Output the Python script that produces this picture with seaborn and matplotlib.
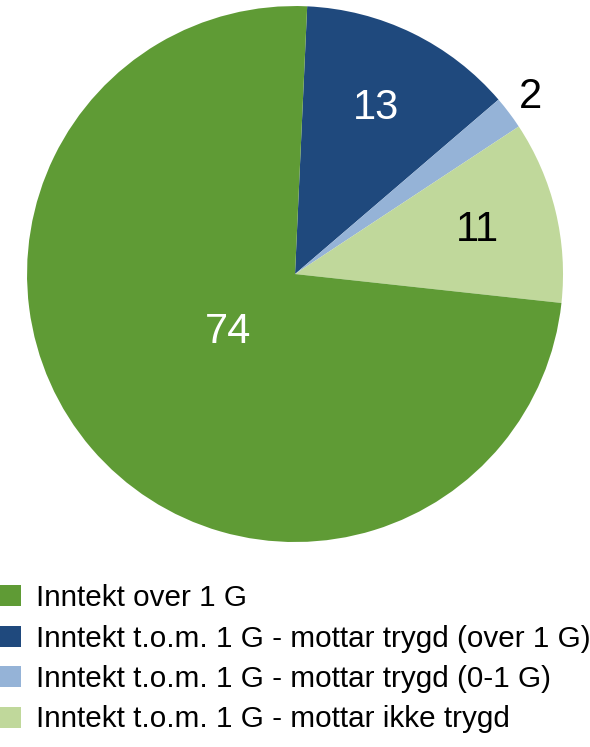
import matplotlib
matplotlib.use("Agg")
import matplotlib.pyplot as plt
import seaborn as sns
import numpy as np

sns.set_theme(style="white")
plt.rcParams['font.family'] = ['Liberation Sans', 'DejaVu Sans']
plt.rcParams['text.color'] = 'black'

categories = [
    "Inntekt t.o.m. 1 G - mottar trygd (over 1 G)",
    "Inntekt t.o.m. 1 G - mottar trygd (0-1 G)",
    "Inntekt t.o.m. 1 G - mottar ikke trygd",
    "Inntekt over 1 G",
]
values = [13, 2, 11, 74]
colors = ["#1F497D", "#95B3D7", "#C0D89B", "#5F9B35"]
label_colors = ["white", "black", "black", "white"]
label_dist = [0.69, 1.10, 0.70, 0.33]
legend_order = [3, 0, 1, 2]

fig = plt.figure(figsize=(5.9, 7.47), dpi=100)
ax = fig.add_axes([0.0458, 0.2744, 0.9085, 0.7175])
wedges, _ = ax.pie(values, colors=colors, startangle=87.4, counterclock=False,
                   radius=1, wedgeprops=dict(linewidth=0))
ax.set_xlim(-1, 1)
ax.set_ylim(-1, 1)
ax.set_aspect('equal')
ax.axis('off')

for w, v, c, d in zip(wedges, values, label_colors, label_dist):
    ang = np.deg2rad((w.theta1 + w.theta2) / 2)
    ax.text(d * np.cos(ang), d * np.sin(ang), str(v), color=c, fontsize=30,
            ha='center', va='center')

fig.legend([wedges[i] for i in legend_order], [categories[i] for i in legend_order],
           loc='upper left', bbox_to_anchor=(0.0, 0.218), frameon=False,
           fontsize=21.3, handlelength=0.72, handleheight=0.72, handletextpad=0.48,
           labelspacing=0.42, borderpad=0, borderaxespad=0, labelcolor='black')

fig.savefig("out.png", dpi=100)
